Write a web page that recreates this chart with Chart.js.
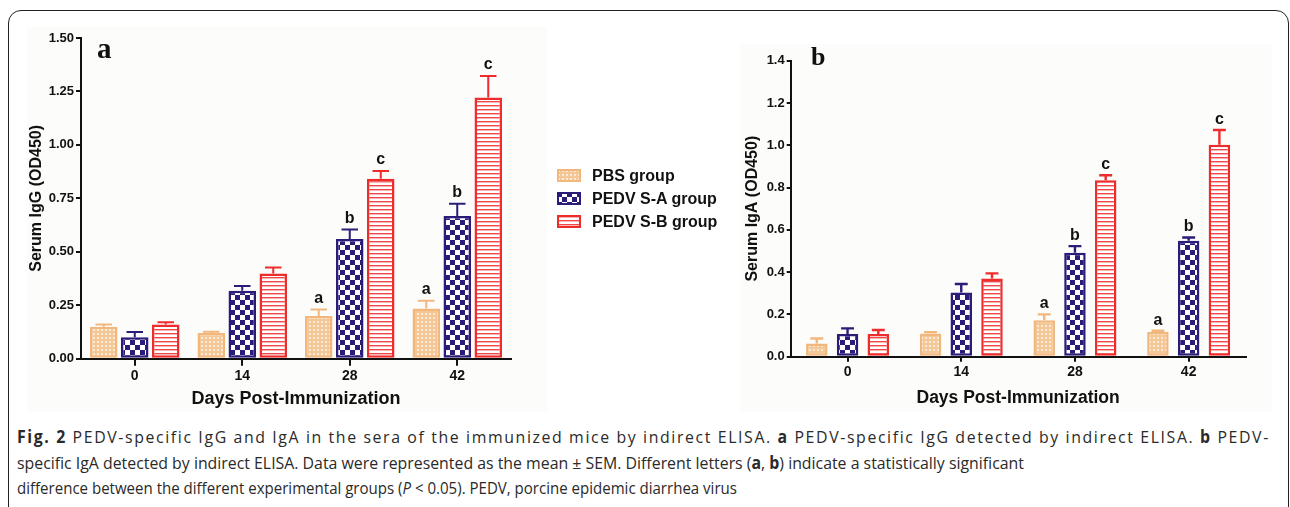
<!DOCTYPE html>
<html><head><meta charset="utf-8">
<script src="https://cdn.jsdelivr.net/npm/chart.js@4.4.1/dist/chart.umd.min.js"></script>
<style>
html,body{margin:0;padding:0;background:#fff;width:1290px;height:507px;overflow:hidden;position:relative;font-family:"Liberation Sans",Arial,sans-serif;}
#frame{position:absolute;left:8px;top:10px;width:1281px;height:530px;border:1.6px solid #222;border-radius:13px;box-sizing:border-box;}
.bg{position:absolute;background:#fcfcfb;}
canvas.chart{position:absolute;top:0;}
.panel{position:absolute;font-family:"Liberation Serif","Times New Roman",serif;font-weight:bold;line-height:1;color:#111;}
#legend{position:absolute;left:557px;top:164px;}
.lg{display:flex;align-items:center;height:23px;font-weight:bold;font-size:16px;color:#111;white-space:nowrap;}
.lg canvas{margin-right:11px;}
.ln{position:absolute;left:17px;white-space:nowrap;font-family:"Open Sans",sans-serif;font-size:17px;line-height:22px;color:#2a2a2a;transform-origin:0 50%;}
.ln b{font-weight:bold;}
</style></head>
<body>
<div id="frame"></div>
<div class="bg" style="left:27px;top:27px;width:520px;height:385px"></div>
<div class="bg" style="left:740px;top:44px;width:532px;height:368px"></div>
<canvas id="cA" class="chart" width="540" height="420" style="left:0px"></canvas>
<canvas id="cB" class="chart" width="550" height="420" style="left:740px"></canvas>
<div class="panel" style="left:97px;top:34px;font-size:29px">a</div>
<div class="panel" style="left:811px;top:44px;font-size:26px">b</div>
<div id="legend"></div>
<div class="ln" id="l1" data-w="1253" style="top:426px"><b>Fig. 2</b> PEDV-specific IgG and IgA in the sera of the immunized mice by indirect ELISA. <b>a</b> PEDV-specific IgG detected by indirect ELISA. <b>b</b> PEDV-</div>
<div class="ln" id="l2" data-w="1007" style="top:452px">specific IgA detected by indirect ELISA. Data were represented as the mean ± SEM. Different letters (<b>a</b>, <b>b</b>) indicate a statistically significant</div>
<div class="ln" id="l3" data-w="720" style="top:477px">difference between the different experimental groups (<i>P</i> &lt; 0.05). PEDV, porcine epidemic diarrhea virus</div>
<script>
// ---- data ----
const categories = ['0', '14', '28', '42'];
const groupLabels = ['PBS group', 'PEDV S-A group', 'PEDV S-B group'];
const igGTicks = [0, 0.25, 0.5, 0.75, 1.0, 1.25, 1.5];
const igATicks = [0, 0.2, 0.4, 0.6, 0.8, 1.0, 1.2, 1.4];

const pbsIgG = [0.150, 0.120, 0.200, 0.235];
const pbsIgGErr = [0.010, 0.006, 0.030, 0.036];
const saIgG = [0.100, 0.318, 0.560, 0.668];
const saIgGErr = [0.025, 0.022, 0.044, 0.057];
const sbIgG = [0.160, 0.398, 0.842, 1.222];
const sbIgGErr = [0.010, 0.028, 0.036, 0.100];

const pbsIgA = [0.062, 0.110, 0.172, 0.117];
const pbsIgAErr = [0.024, 0.006, 0.028, 0.006];
const saIgA = [0.107, 0.304, 0.492, 0.549];
const saIgAErr = [0.027, 0.040, 0.031, 0.015];
const sbIgA = [0.107, 0.370, 0.834, 1.003];
const sbIgAErr = [0.019, 0.024, 0.024, 0.069];

const pbsLetters = ['', '', 'a', 'a'];
const saLetters = ['', '', 'b', 'b'];
const sbLetters = ['', '', 'c', 'c'];

// ---- styles ----
const FONT = '"Liberation Sans", Arial, sans-serif';
const colors = ['#f1b77d', '#2c1c7a', '#ee2c2c'];

function pattern(kind) {
  const c = document.createElement('canvas');
  const x = c.getContext('2d');
  if (kind === 0) {
    c.width = 4; c.height = 4;
    x.fillStyle = '#f4c796'; x.fillRect(0, 0, 4, 4);
    x.fillStyle = '#fcead6'; x.fillRect(1, 1, 2, 2);
  } else if (kind === 1) {
    c.width = 10; c.height = 10;
    x.fillStyle = '#ffffff'; x.fillRect(0, 0, 10, 10);
    x.fillStyle = '#2c1c7a'; x.fillRect(0, 0, 5, 5); x.fillRect(5, 5, 5, 5);
  } else {
    c.width = 4; c.height = 4;
    x.fillStyle = '#ffffff'; x.fillRect(0, 0, 4, 4);
    x.fillStyle = '#f04848'; x.fillRect(0, 1, 4, 1.4);
  }
  return x.createPattern(c, 'repeat');
}

const annot = {
  id: 'annot',
  afterDatasetsDraw(chart, args, opts) {
    const ctx = chart.ctx, y = chart.scales.y;
    chart.data.datasets.forEach((ds, i) => {
      const meta = chart.getDatasetMeta(i);
      meta.data.forEach((bar, j) => {
        const top = y.getPixelForValue(ds.data[j] + ds.errors[j]);
        ctx.save();
        ctx.strokeStyle = ds.borderColor; ctx.lineWidth = opts.lw;
        ctx.beginPath();
        ctx.moveTo(bar.x, bar.y); ctx.lineTo(bar.x, top);
        const hw = bar.width * 0.3;
        ctx.moveTo(bar.x - hw, top); ctx.lineTo(bar.x + hw, top);
        ctx.stroke();
        const L = ds.letters[j];
        if (L) {
          ctx.fillStyle = '#111';
          ctx.font = 'bold 16px ' + FONT;
          ctx.textAlign = 'center'; ctx.textBaseline = 'alphabetic';
          ctx.fillText(L, bar.x, top - opts.gap);
        }
        ctx.restore();
      });
    });
  }
};

function makeDatasets(vals, errs, cp, bp) {
  const letters = [pbsLetters, saLetters, sbLetters];
  return vals.map((v, i) => ({
    label: groupLabels[i], data: v, errors: errs[i], letters: letters[i],
    backgroundColor: pattern(i), borderColor: colors[i], borderWidth: 2.5,
    borderSkipped: false, categoryPercentage: cp, barPercentage: bp
  }));
}

function makeChart(id, cfg) {
  return new Chart(document.getElementById(id), {
    type: 'bar',
    data: { labels: categories, datasets: makeDatasets(cfg.vals, cfg.errs, cfg.cp, cfg.bp) },
    options: {
      responsive: false, animation: false, devicePixelRatio: 1,
      layout: { padding: cfg.pad },
      plugins: { legend: { display: false }, tooltip: { enabled: false }, annot: cfg.annot },
      scales: {
        x: {
          offset: true,
          grid: { offset: false, drawOnChartArea: false, drawTicks: true, tickLength: cfg.xTick, color: '#111', lineWidth: 2 },
          border: { display: true, color: '#111', width: 2 },
          ticks: { font: { family: FONT, size: 14, weight: 'bold' }, color: '#111', padding: 2 },
          title: { display: true, text: 'Days Post-Immunization', font: { family: FONT, size: cfg.xTitleSize, weight: 'bold' }, color: '#111', padding: { top: 0, bottom: cfg.xTitlePad } },
          afterFit: s => { s.height = cfg.xH; }
        },
        y: {
          min: 0, max: cfg.ticks[cfg.ticks.length - 1],
          afterBuildTicks: s => { s.ticks = cfg.ticks.map(v => ({ value: v })); },
          grid: { drawOnChartArea: false, drawTicks: true, tickLength: cfg.yTick, color: '#111', lineWidth: 2 },
          border: { display: true, color: '#111', width: 2 },
          ticks: { font: { family: FONT, size: 13, weight: 'bold' }, color: '#111', padding: 2, callback: v => v.toFixed(cfg.dec) },
          title: { display: true, text: cfg.yTitle, font: { family: FONT, size: 16, weight: 'bold' }, color: '#111', padding: { top: cfg.yTitlePad, bottom: 0 } },
          afterFit: s => { s.width = cfg.yW; }
        }
      }
    },
    plugins: [annot]
  });
}

const chartA = makeChart('cA', {
  vals: [pbsIgG, saIgG, sbIgG], errs: [pbsIgGErr, saIgGErr, sbIgGErr],
  cp: 0.865, bp: 0.887, ticks: igGTicks, dec: 2, yTitle: 'Serum IgG (OD450)',
  pad: { top: 38, left: 0, right: 29, bottom: 0 }, yW: 81, xH: 61.3,
  yTitlePad: 27.4, xTitlePad: 9.7, xTitleSize: 18, xTick: 7, yTick: 5,
  annot: { lw: 2, gap: 7 }
});
const chartB = makeChart('cB', {
  vals: [pbsIgA, saIgA, sbIgA], errs: [pbsIgAErr, saIgAErr, sbIgAErr],
  cp: 0.811, bp: 0.70, ticks: igATicks, dec: 1, yTitle: 'Serum IgA (OD450)',
  pad: { top: 60.7, left: 0, right: 44.5, bottom: 0 }, yW: 50.7, xH: 63.3,
  yTitlePad: 3.4, xTitlePad: 11.5, xTitleSize: 17.5, xTick: 5, yTick: 4,
  annot: { lw: 2.4, gap: 6 }
});

// legend from the chart's datasets
const lg = document.getElementById('legend');
chartA.data.datasets.forEach((ds, i) => {
  const row = document.createElement('div'); row.className = 'lg';
  const sw = document.createElement('canvas'); sw.width = 24; sw.height = 13;
  const x = sw.getContext('2d');
  x.fillStyle = pattern(i); x.fillRect(0, 0, 24, 13);
  x.strokeStyle = ds.borderColor; x.lineWidth = 2; x.strokeRect(1, 1, 22, 11);
  row.appendChild(sw);
  row.appendChild(document.createTextNode(ds.label));
  lg.appendChild(row);
});

// caption: lines 2 and 3 scaled to their widths; line 1 uses line 2's scale plus letter spacing
function fitCaption() {
  const ls = ['l1', 'l2', 'l3'].map(id => document.getElementById(id));
  ls.forEach(el => { el.style.transform = 'none'; el.style.letterSpacing = '0px'; });
  const w = ls.map(el => el.getBoundingClientRect().width);
  const t = ls.map(el => +el.dataset.w);
  const s2 = t[1] / w[1], s3 = t[2] / w[2];
  const n1 = ls[0].textContent.length;
  const extra = t[0] / s2 - w[0];
  ls[0].style.letterSpacing = (extra / n1).toFixed(3) + 'px';
  ls[0].style.transform = 'scaleX(' + s2.toFixed(4) + ')';
  ls[1].style.transform = 'scaleX(' + s2.toFixed(4) + ')';
  ls[2].style.transform = 'scaleX(' + s3.toFixed(4) + ')';
}
fitCaption();
if (document.fonts && document.fonts.ready) document.fonts.ready.then(fitCaption);
</script>
</body></html>
